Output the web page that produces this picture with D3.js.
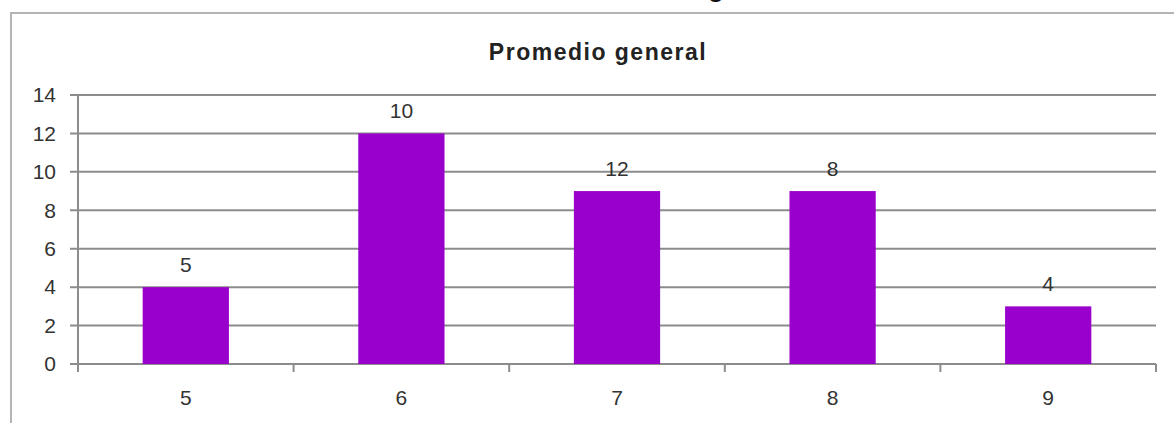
<!DOCTYPE html>
<html>
<head>
<meta charset="utf-8">
<script src="https://cdn.jsdelivr.net/npm/d3@7"></script>
<style>
  body { margin: 0; background: #fff; }
  text { font-family: "Liberation Sans", Arial, sans-serif; }
</style>
</head>
<body>
<script>
const SVG_WIDTH = 1174;
const SVG_HEIGHT = 423;

// data
const categories = ['5', '6', '7', '8', '9'];
const values = [4, 12, 9, 9, 3];
const barLabels = ['5', '10', '12', '8', '4'];
const yTicks = [0, 2, 4, 6, 8, 10, 12, 14];
const title = 'Promedio general';

const BAR_COLOR = '#9900cc';
const GRID_COLOR = '#8c8c8c';
const TEXT_COLOR = '#333';

const plot = { left: 78, right: 1156, top: 95, bottom: 364 };

const svg = d3.select('body').append('svg')
    .attr('width', SVG_WIDTH)
    .attr('height', SVG_HEIGHT);

// chart frame (right side runs off the picture)
svg.append('path')
  .attr('d', `M 11 ${SVG_HEIGHT} L 11 13 L ${SVG_WIDTH} 13`)
  .attr('fill', 'none')
  .attr('stroke', '#b4b4b4')
  .attr('stroke-width', 2);

// bottom of a heading that sits above the frame
svg.append('text')
  .attr('x', 716)
  .attr('y', -3)
  .attr('text-anchor', 'middle')
  .attr('font-size', 26)
  .attr('font-weight', 'bold')
  .attr('fill', '#111')
  .text('g');

svg.append('text')
  .attr('x', 598)
  .attr('y', 60)
  .attr('text-anchor', 'middle')
  .attr('font-size', 23)
  .attr('font-weight', 'bold')
  .attr('letter-spacing', 1.5)
  .attr('fill', '#222')
  .text(title);

const x = d3.scaleBand()
  .domain(categories)
  .range([plot.left, plot.right])
  .paddingInner(0.6)
  .paddingOuter(0.3);

const y = d3.scaleLinear()
  .domain([0, 14])
  .range([plot.bottom, plot.top]);

// gridlines
svg.append('g')
  .selectAll('line')
  .data(yTicks)
  .join('line')
    .attr('x1', plot.left - 8)
    .attr('x2', plot.right)
    .attr('y1', d => y(d))
    .attr('y2', d => y(d))
    .attr('stroke', GRID_COLOR)
    .attr('stroke-width', 2);

// y axis line
svg.append('line')
  .attr('x1', plot.left).attr('x2', plot.left)
  .attr('y1', plot.top).attr('y2', plot.bottom + 8)
  .attr('stroke', GRID_COLOR)
  .attr('stroke-width', 2);

// x ticks between categories
const xTickPos = d3.range(categories.length + 1).map(i => plot.left + i * (plot.right - plot.left) / categories.length);
svg.append('g')
  .selectAll('line')
  .data(xTickPos)
  .join('line')
    .attr('x1', d => d).attr('x2', d => d)
    .attr('y1', plot.bottom).attr('y2', plot.bottom + 8)
    .attr('stroke', GRID_COLOR)
    .attr('stroke-width', 2);

// y tick labels
svg.append('g')
  .selectAll('text')
  .data(yTicks)
  .join('text')
    .attr('x', plot.left - 22)
    .attr('y', d => y(d))
    .attr('dy', '0.35em')
    .attr('text-anchor', 'end')
    .attr('font-size', 21)
    .attr('fill', TEXT_COLOR)
    .text(d => d);

// bars
svg.append('g')
  .selectAll('rect')
  .data(values)
  .join('rect')
    .attr('x', (d, i) => x(categories[i]))
    .attr('y', d => y(d))
    .attr('width', x.bandwidth())
    .attr('height', d => y(0) - y(d))
    .attr('fill', BAR_COLOR);

// labels over bars
svg.append('g')
  .selectAll('text')
  .data(values)
  .join('text')
    .attr('x', (d, i) => x(categories[i]) + x.bandwidth() / 2)
    .attr('y', d => y(d) - 15)
    .attr('text-anchor', 'middle')
    .attr('font-size', 21)
    .attr('fill', TEXT_COLOR)
    .text((d, i) => barLabels[i]);

// category labels
svg.append('g')
  .selectAll('text')
  .data(categories)
  .join('text')
    .attr('x', d => x(d) + x.bandwidth() / 2)
    .attr('y', plot.bottom + 41)
    .attr('text-anchor', 'middle')
    .attr('font-size', 21)
    .attr('fill', TEXT_COLOR)
    .text(d => d);
</script>
</body>
</html>
